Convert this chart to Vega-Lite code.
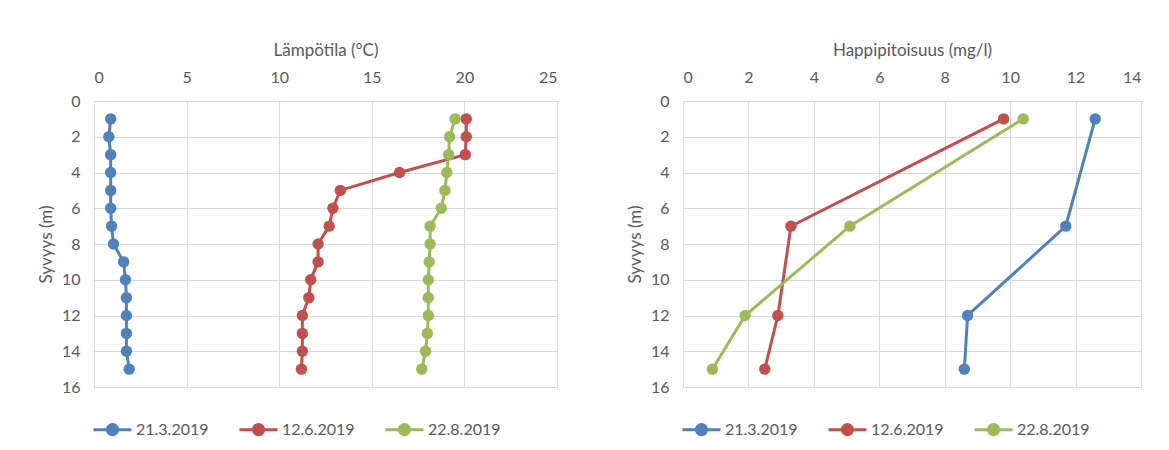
{
  "$schema": "https://vega.github.io/schema/vega-lite/v6.json",
  "padding": {"left": 36, "top": 40, "right": 5, "bottom": 5},
  "background": "white",
  "spacing": 67,
  "config": {
    "font": "Lato",
    "view": {"stroke": "#d9d9d9", "strokeWidth": 1},
    "axis": {
      "gridColor": "#d9d9d9",
      "gridWidth": 1,
      "domain": false,
      "ticks": false,
      "labelFont": "Lato",
      "labelFontSize": 16,
      "labelColor": "#595959",
      "titleFont": "Lato",
      "titleFontSize": 17,
      "titleFontWeight": "normal",
      "titleColor": "#595959"
    },
    "legend": {
      "labelFont": "Lato",
      "labelFontSize": 16,
      "labelColor": "#595959"
    }
  },
  "datasets": {
    "temp": [
      {"date": "21.3.2019", "depth": 1, "value": 0.9},
      {"date": "21.3.2019", "depth": 2, "value": 0.8},
      {"date": "21.3.2019", "depth": 3, "value": 0.9},
      {"date": "21.3.2019", "depth": 4, "value": 0.9},
      {"date": "21.3.2019", "depth": 5, "value": 0.9},
      {"date": "21.3.2019", "depth": 6, "value": 0.9},
      {"date": "21.3.2019", "depth": 7, "value": 0.95},
      {"date": "21.3.2019", "depth": 8, "value": 1.05},
      {"date": "21.3.2019", "depth": 9, "value": 1.6},
      {"date": "21.3.2019", "depth": 10, "value": 1.7},
      {"date": "21.3.2019", "depth": 11, "value": 1.75},
      {"date": "21.3.2019", "depth": 12, "value": 1.75},
      {"date": "21.3.2019", "depth": 13, "value": 1.75},
      {"date": "21.3.2019", "depth": 14, "value": 1.75},
      {"date": "21.3.2019", "depth": 15, "value": 1.9},
      {"date": "12.6.2019", "depth": 1, "value": 20.1},
      {"date": "12.6.2019", "depth": 2, "value": 20.1},
      {"date": "12.6.2019", "depth": 3, "value": 20.05},
      {"date": "12.6.2019", "depth": 4, "value": 16.5},
      {"date": "12.6.2019", "depth": 5, "value": 13.3},
      {"date": "12.6.2019", "depth": 6, "value": 12.9},
      {"date": "12.6.2019", "depth": 7, "value": 12.7},
      {"date": "12.6.2019", "depth": 8, "value": 12.1},
      {"date": "12.6.2019", "depth": 9, "value": 12.1},
      {"date": "12.6.2019", "depth": 10, "value": 11.7},
      {"date": "12.6.2019", "depth": 11, "value": 11.6},
      {"date": "12.6.2019", "depth": 12, "value": 11.25},
      {"date": "12.6.2019", "depth": 13, "value": 11.25},
      {"date": "12.6.2019", "depth": 14, "value": 11.25},
      {"date": "12.6.2019", "depth": 15, "value": 11.2},
      {"date": "22.8.2019", "depth": 1, "value": 19.5},
      {"date": "22.8.2019", "depth": 2, "value": 19.2},
      {"date": "22.8.2019", "depth": 3, "value": 19.15},
      {"date": "22.8.2019", "depth": 4, "value": 19.05},
      {"date": "22.8.2019", "depth": 5, "value": 18.95},
      {"date": "22.8.2019", "depth": 6, "value": 18.75},
      {"date": "22.8.2019", "depth": 7, "value": 18.15},
      {"date": "22.8.2019", "depth": 8, "value": 18.15},
      {"date": "22.8.2019", "depth": 9, "value": 18.1},
      {"date": "22.8.2019", "depth": 10, "value": 18.05},
      {"date": "22.8.2019", "depth": 11, "value": 18.05},
      {"date": "22.8.2019", "depth": 12, "value": 18.05},
      {"date": "22.8.2019", "depth": 13, "value": 18.0},
      {"date": "22.8.2019", "depth": 14, "value": 17.9},
      {"date": "22.8.2019", "depth": 15, "value": 17.7}
    ],
    "oxy": [
      {"date": "21.3.2019", "depth": 1, "value": 12.6},
      {"date": "21.3.2019", "depth": 7, "value": 11.7},
      {"date": "21.3.2019", "depth": 12, "value": 8.7},
      {"date": "21.3.2019", "depth": 15, "value": 8.6},
      {"date": "12.6.2019", "depth": 1, "value": 9.8},
      {"date": "12.6.2019", "depth": 7, "value": 3.3},
      {"date": "12.6.2019", "depth": 12, "value": 2.9},
      {"date": "12.6.2019", "depth": 15, "value": 2.5},
      {"date": "22.8.2019", "depth": 1, "value": 10.4},
      {"date": "22.8.2019", "depth": 7, "value": 5.1},
      {"date": "22.8.2019", "depth": 12, "value": 1.9},
      {"date": "22.8.2019", "depth": 15, "value": 0.9}
    ]
  },
  "hconcat": [
    {
      "width": 463,
      "height": 286,
      "data": {"name": "temp"},
      "encoding": {
        "x": {"field": "value", "type": "quantitative", "title": "Lämpötila (°C)",
              "scale": {"domain": [0, 25], "nice": false, "zero": false},
              "axis": {"orient": "top", "values": [0, 5, 10, 15, 20, 25], "labelPadding": 16, "titlePadding": 10}},
        "y": {"field": "depth", "type": "quantitative", "title": "Syvyys (m)",
              "scale": {"domain": [0, 16], "reverse": true, "nice": false},
              "axis": {"values": [0, 2, 4, 6, 8, 10, 12, 14, 16], "labelPadding": 14, "titlePadding": 6}},
        "color": {"field": "date", "type": "nominal",
                  "scale": {"domain": ["21.3.2019", "12.6.2019", "22.8.2019"], "range": ["#4F81BD", "#C0504D", "#9BBB59"]},
                  "legend": {"title": null, "orient": "none", "direction": "horizontal", "legendX": -2, "legendY": 308,
                             "symbolType": "M-1,0L1,0M-0.27,0A0.27,0.27,0,1,1,0.27,0A0.27,0.27,0,1,1,-0.27,0Z",
                             "symbolSize": 1444, "symbolStrokeWidth": 3, "labelOffset": 3, "columnPadding": 24}},
        "order": {"field": "depth", "type": "quantitative"}
      },
      "layer": [
        {"mark": {"type": "line", "strokeWidth": 3}},
        {"mark": {"type": "point", "filled": true, "size": 130, "opacity": 1}}
      ]
    },
    {
      "width": 458,
      "height": 286,
      "data": {"name": "oxy"},
      "encoding": {
        "x": {"field": "value", "type": "quantitative", "title": "Happipitoisuus (mg/l)",
              "scale": {"domain": [0, 14], "nice": false, "zero": false},
              "axis": {"orient": "top", "values": [0, 2, 4, 6, 8, 10, 12, 14], "labelPadding": 16, "titlePadding": 10}},
        "y": {"field": "depth", "type": "quantitative", "title": "Syvyys (m)",
              "scale": {"domain": [0, 16], "reverse": true, "nice": false},
              "axis": {"values": [0, 2, 4, 6, 8, 10, 12, 14, 16], "labelPadding": 14, "titlePadding": 6}},
        "color": {"field": "date", "type": "nominal",
                  "scale": {"domain": ["21.3.2019", "12.6.2019", "22.8.2019"], "range": ["#4F81BD", "#C0504D", "#9BBB59"]},
                  "legend": {"title": null, "orient": "none", "direction": "horizontal", "legendX": -2, "legendY": 308,
                             "symbolType": "M-1,0L1,0M-0.27,0A0.27,0.27,0,1,1,0.27,0A0.27,0.27,0,1,1,-0.27,0Z",
                             "symbolSize": 1444, "symbolStrokeWidth": 3, "labelOffset": 3, "columnPadding": 24}},
        "order": {"field": "depth", "type": "quantitative"}
      },
      "layer": [
        {"mark": {"type": "line", "strokeWidth": 3}},
        {"mark": {"type": "point", "filled": true, "size": 130, "opacity": 1}}
      ]
    }
  ],
  "resolve": {"scale": {"x": "independent", "y": "independent", "color": "independent"}, "legend": {"color": "independent"}}
}
